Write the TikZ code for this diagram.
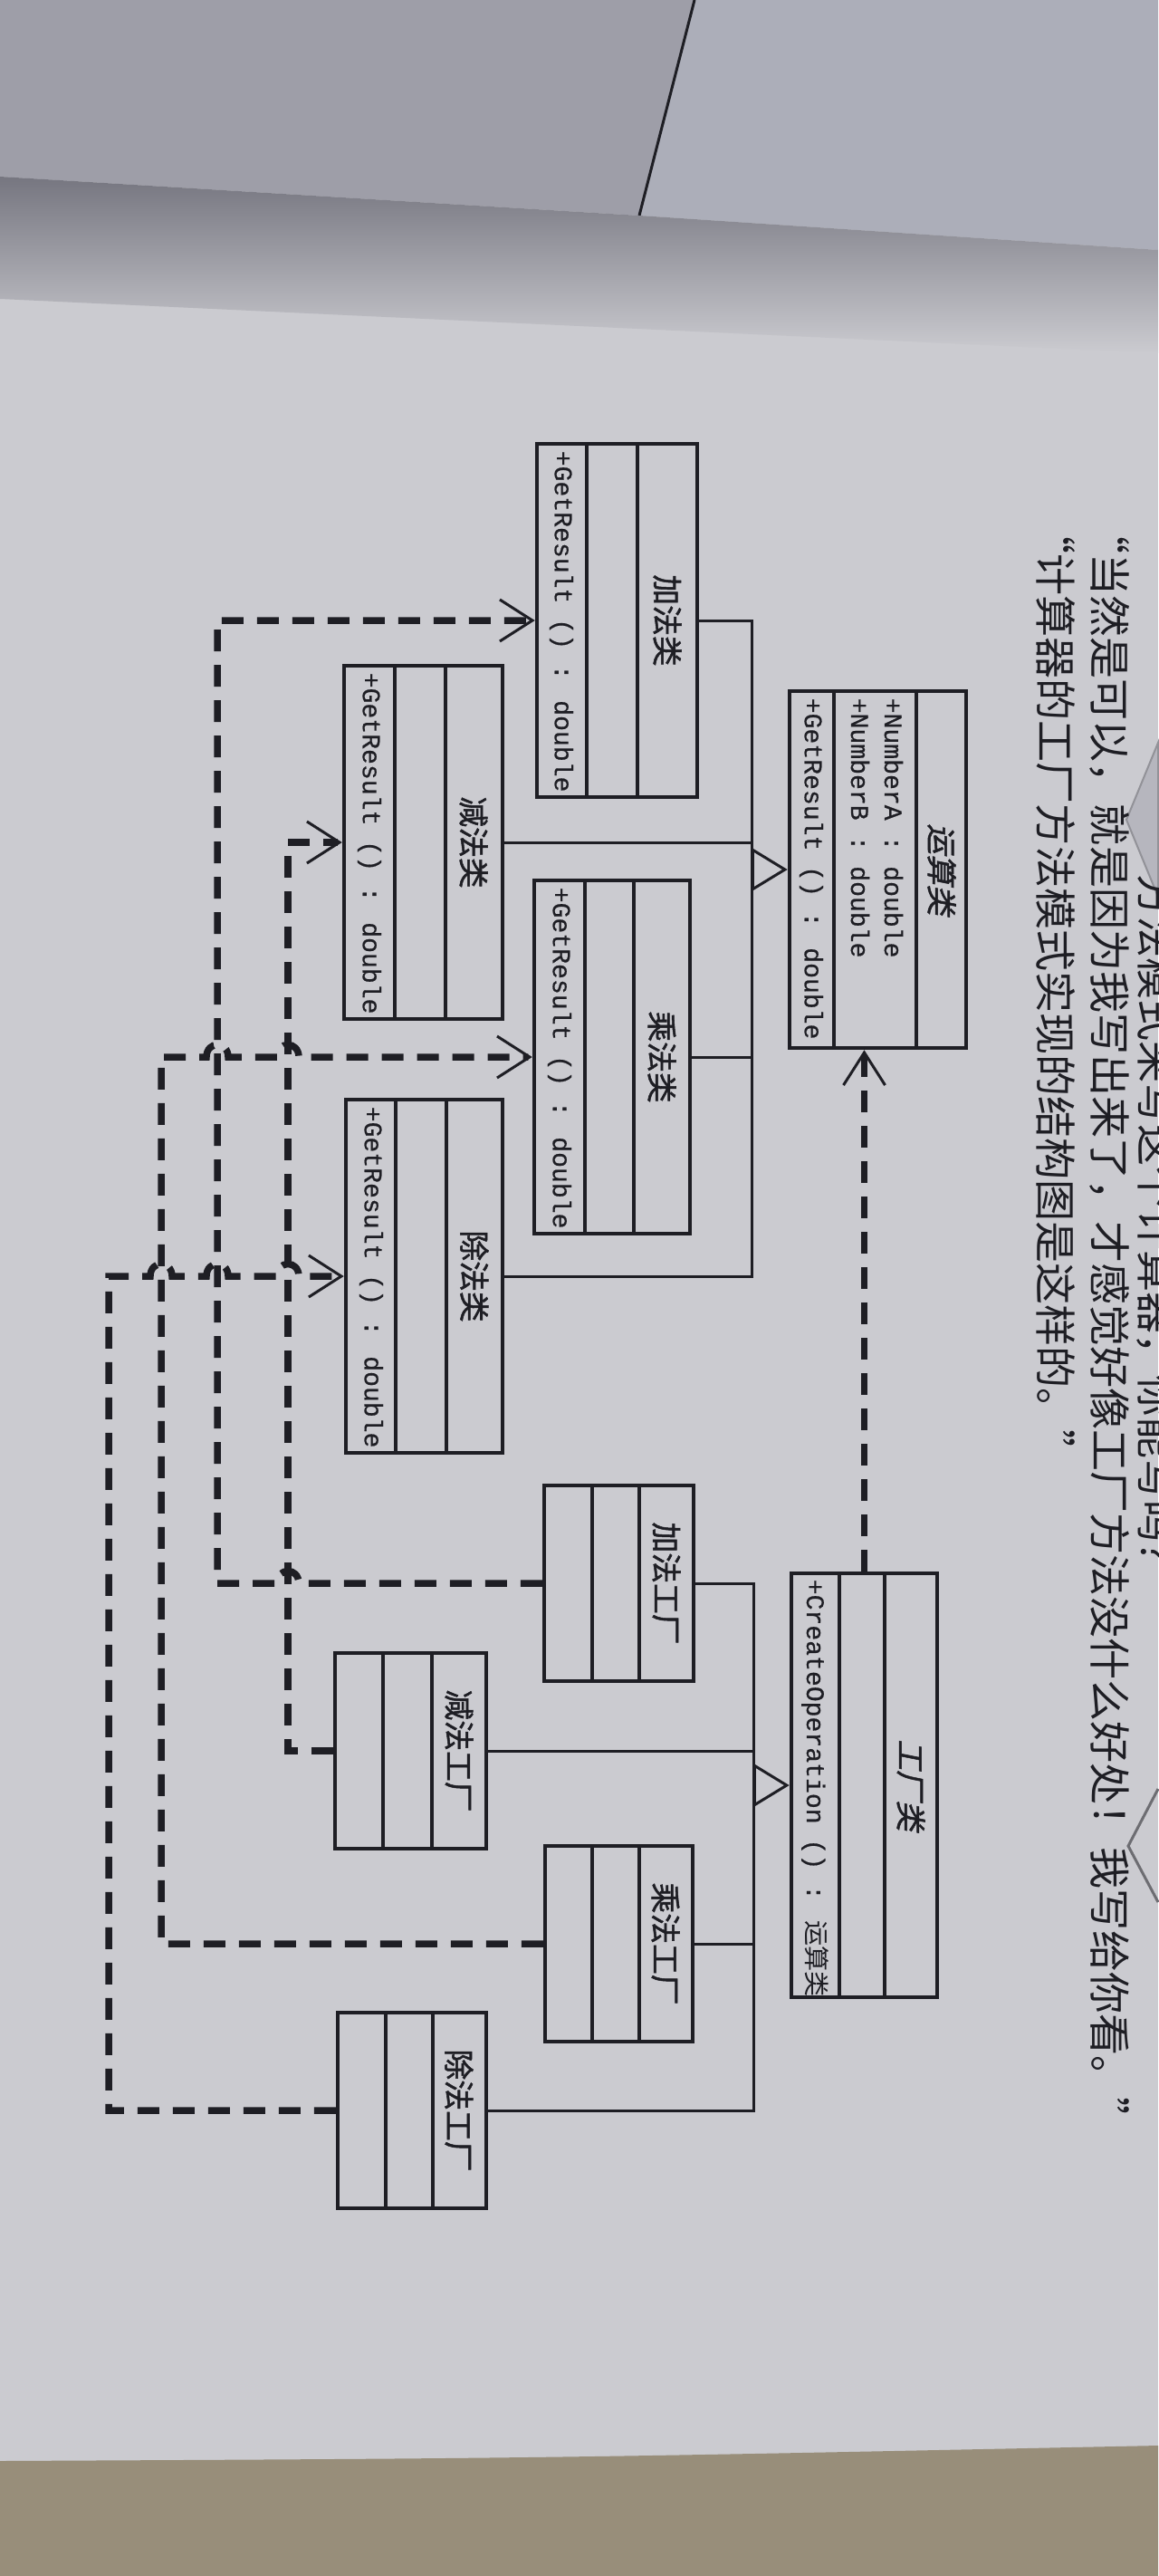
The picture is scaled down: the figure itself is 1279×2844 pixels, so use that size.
\documentclass[tikz,border=0pt]{standalone}
\usepackage{fontspec}
\setmainfont{Liberation Serif}
\newfontfamily\cjk{Noto Sans CJK SC}
\newfontfamily\cjkb[FakeBold=1.5]{Noto Sans CJK SC}
\newfontfamily\cjkbi[FakeBold=1.5,FakeSlant=0.2]{Noto Sans CJK SC}
\newfontfamily\code[FakeBold=0.6]{Liberation Mono}
\usetikzlibrary{arrows.meta,fit}
\definecolor{pagec}{RGB}{203,203,208}
\definecolor{ink}{RGB}{30,30,36}
\definecolor{topleft}{RGB}{158,158,168}
\definecolor{topright}{RGB}{172,174,185}
\definecolor{shadowc}{RGB}{118,118,128}
\definecolor{tablec}{RGB}{152,142,122}
\definecolor{ghost}{RGB}{182,182,190}
\newcommand{\umlbox}[7]{%
  \node[boxst, fit={(#2,#3) (#4,#5)}] (#1) {};
  \draw[boxline] (#6,#3) -- (#6,#5) (#7,#3) -- (#7,#5);
}
\begin{document}
\begin{tikzpicture}[x=0.1mm,y=-0.1mm,
  boxst/.style={draw=ink, line width=0.45mm, inner sep=0pt},
  boxline/.style={draw=ink, line width=0.45mm},
  genline/.style={draw=ink, line width=0.3mm},
  inh/.style={draw=ink, line width=0.3mm, -{Triangle[length=4mm,width=4.8mm,line width=0.3mm,fill=pagec]}},
  dep/.style={draw=ink, line width=0.75mm, dash pattern=on 2.4mm off 1.5mm,
    -{Straight Barb[length=3.6mm,width=4.6mm,line width=0.3mm]}},
  nm/.style={rotate=-90, text=ink, inner sep=0pt, font=\cjkb\fontsize{9.6}{10}\selectfont},
  nmi/.style={rotate=-90, text=ink, inner sep=0pt, font=\cjkbi\fontsize{9.6}{10}\selectfont},
  op/.style={rotate=-90, anchor=west, text=ink, inner sep=0pt, font=\code\fontsize{8}{9}\selectfont},
  body/.style={rotate=-90, anchor=west, text=ink, inner sep=0pt, font=\cjk\fontsize{13.1}{14}\selectfont}
]
\useasboundingbox (0,0) rectangle (1279,2844);
% background
\fill[pagec] (0,0) rectangle (1279,2844);
\fill[topleft] (0,0) -- (767,0) -- (706,238) -- (0,195) -- cycle;
\fill[topright] (767,0) -- (1279,0) -- (1279,276) -- (706,238) -- cycle;
\draw[ink, line width=0.3mm] (767,0) -- (706,238);
\shade[top color=shadowc, bottom color=pagec] (0,195) -- (706,238) -- (1279,276) -- (1279,390) -- (0,330) -- cycle;
\fill[tablec] (0,2717) .. controls (600,2714) .. (1279,2700) -- (1279,2844) -- (0,2844) -- cycle;
% shapes showing at the right edge
\fill[ghost, draw=ghost!80!black, line width=0.2mm] (1279,820) -- (1244,905) -- (1279,990) -- cycle;
\draw[ghost!60!black, line width=0.3mm] (1279,1975) -- (1246,2038) -- (1279,2100);

% body text
\node[body] at (1277,965) {方法模式来写这个计算器，你能写吗？”};
\node[body] at (1226,565) {“当然是可以，就是因为我写出来了，才感觉好像工厂方法没什么好处！我写给你看。”};
\node[body] at (1166,565) {“计算器的工厂方法模式实现的结构图是这样的。”};

% product classes
\umlbox{yunsuan}{872}{763}{1067}{1157}{921}{1012}
\node[nmi] at (1040,960) {运算类};
\node[op] at (987,770) {+NumberA : double};
\node[op] at (950,770) {+NumberB : double};
\node[op] at (896,770) {+GetResult () : double};

\umlbox{jiafa}{593}{490}{770}{880}{648}{704}
\node[nm] at (737,685) {加法类};
\node[op] at (620,497) {+GetResult () : double};

\umlbox{jianfa}{380}{735}{555}{1125}{436}{492}
\node[nm] at (523,930) {减法类};
\node[op] at (408,742) {+GetResult () : double};

\umlbox{chengfa}{590}{972}{762}{1362}{646}{700}
\node[nm] at (731,1167) {乘法类};
\node[op] at (618,979) {+GetResult () : double};

\umlbox{chufa}{382}{1214}{555}{1604}{437}{493}
\node[nm] at (524,1409) {除法类};
\node[op] at (410,1221) {+GetResult () : double};

% factory classes
\umlbox{gongchang}{874}{1737}{1035}{2205}{927}{977}
\node[nmi] at (1006,1971) {工厂类};
\node[op] at (900,1743) {+CreateOperation () : {\cjk 运算类}};

\umlbox{jiafaF}{601}{1640}{766}{1856}{654}{706}
\node[nm] at (736,1748) {加法工厂};
\umlbox{jianfaF}{370}{1825}{537}{2041}{423}{477}
\node[nm] at (507,1933) {减法工厂};
\umlbox{chengfaF}{602}{2038}{765}{2254}{654}{706}
\node[nm] at (735,2146) {乘法工厂};
\umlbox{chufaF}{373}{2222}{537}{2438}{426}{478}
\node[nm] at (507,2330) {除法工厂};

% generalization
\coordinate (pbase) at (830,960);
\draw[genline] (jiafa.east) -| (pbase);
\draw[genline] (jianfa.east) -| (pbase);
\draw[genline] (chengfa.east) -| (pbase);
\draw[genline] (chufa.east) -| (pbase);
\draw[inh] (pbase) -- (yunsuan.west);

\coordinate (fbase) at (832,1971);
\draw[genline] (jiafaF.east) -| (fbase);
\draw[genline] (jianfaF.east) -| (fbase);
\draw[genline] (chengfaF.east) -| (fbase);
\draw[genline] (chufaF.east) -| (fbase);
\draw[inh] (fbase) -- (gongchang.west);

% dependencies
\draw[dep] (gongchang.north) -- (gongchang.north |- yunsuan.south);
\draw[dep] (jiafaF.west) -- (330,1748) .. controls (330,1730) and (306,1730) .. (306,1748) -- (240,1748) |- (jiafa.west);
\draw[dep] (jianfaF.west) -- (318,1933) |- (jianfa.west);
\draw[dep] (chengfaF.west) -- (178,2146) -- (178,1167) -- (228,1167)
  .. controls (228,1149) and (252,1149) .. (252,1167) -- (306,1167)
  .. controls (306,1149) and (330,1149) .. (330,1167) -- (chengfa.west);
\draw[dep] (chufaF.west) -- (120,2330) -- (120,1409) -- (166,1409)
  .. controls (166,1391) and (190,1391) .. (190,1409) -- (228,1409)
  .. controls (228,1391) and (252,1391) .. (252,1409) -- (306,1409)
  .. controls (306,1391) and (330,1391) .. (330,1409) -- (chufa.west);
\end{tikzpicture}
\end{document}
